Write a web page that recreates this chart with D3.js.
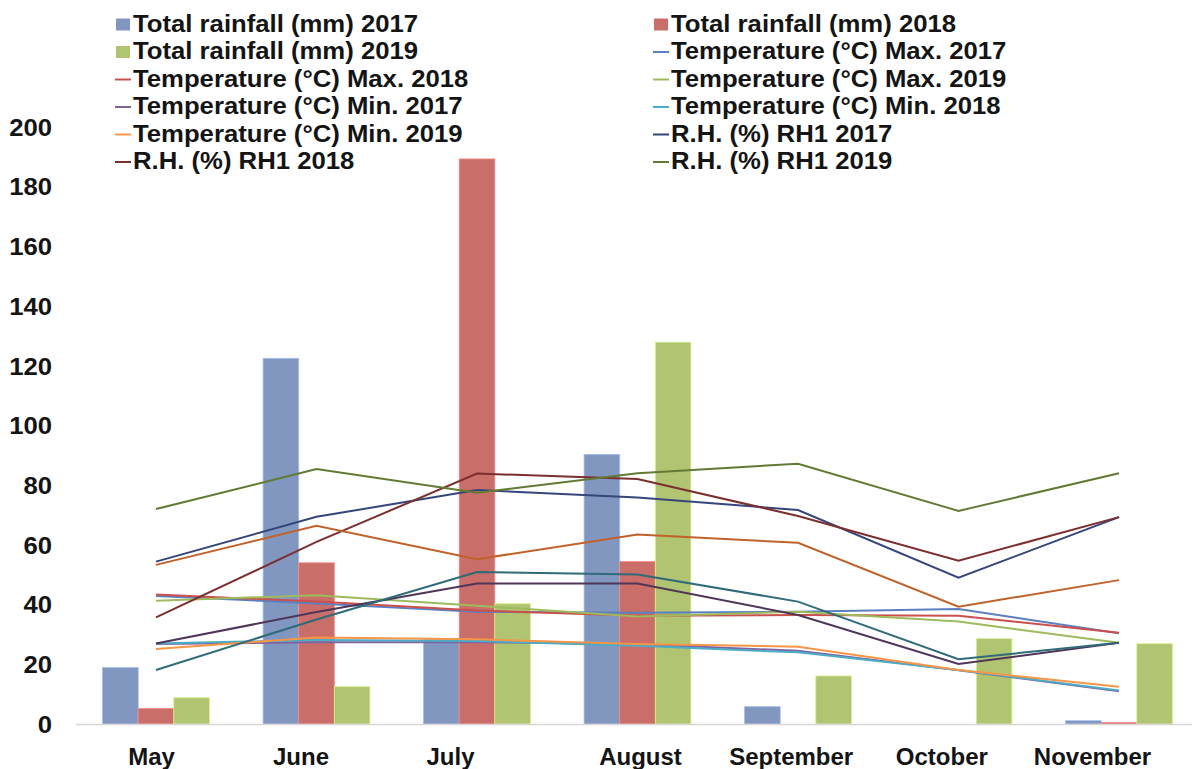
<!DOCTYPE html>
<html>
<head>
<meta charset="utf-8">
<script src="https://cdn.jsdelivr.net/npm/d3@7"></script>
<style>
  html, body { margin: 0; padding: 0; background: #fff; }
  svg { display: block; }
  text { font-family: Arial, "Liberation Sans", sans-serif; font-weight: bold; fill: #141414; }
</style>
</head>
<body>
<svg id="chart" width="1192" height="769"></svg>
<script>
// Months on the category axis
const months = ["May", "June", "July", "August", "September", "October", "November"];

// Total rainfall (mm), bars
const rain2017 = [18.9, 122.5, 28.4, 90.3, 5.8, 0, 1.1];
const rain2018 = [5.2, 54.0, 189.3, 54.4, 0, 0, 0.5];
const rain2019 = [8.8, 12.5, 40.3, 127.9, 16.1, 28.6, 26.9];

// Temperature (°C) maximum
const tMax2017 = [42.9, 40.4, 37.6, 37.3, 37.6, 38.5, 30.4];
const tMax2018 = [43.4, 41.0, 38.0, 36.3, 36.5, 36.3, 30.6];
const tMax2019 = [41.3, 43.1, 39.6, 36.0, 37.6, 34.3, 27.2];

// Temperature (°C) minimum
const tMin2017 = [26.8, 27.4, 27.4, 26.8, 24.5, 18.0, 11.0];
const tMin2018 = [27.0, 28.1, 27.8, 26.2, 24.0, 18.1, 11.2];
const tMin2019 = [25.1, 29.0, 28.4, 26.8, 25.9, 18.1, 12.5];

// Relative humidity (%), morning
const rh1_2017 = [54.4, 69.4, 78.4, 75.9, 71.7, 49.0, 69.3];
const rh1_2018 = [35.7, 61.0, 83.9, 82.1, 69.7, 54.7, 69.3];
const rh1_2019 = [72.0, 85.4, 77.5, 84.0, 87.2, 71.4, 84.0];

// Relative humidity (%), afternoon
const rh2_2017 = [27.0, 37.5, 47.1, 47.1, 36.5, 20.1, 27.2];
const rh2_2018 = [18.1, 35.0, 50.9, 50.1, 41.0, 21.7, 27.2];
const rh2_2019 = [53.3, 66.4, 55.2, 63.5, 60.7, 39.3, 48.2];

// Y axis ticks
const yTicks = [0, 20, 40, 60, 80, 100, 120, 140, 160, 180, 200];

const barSeries = [
  { name: "Total rainfall (mm) 2017", values: rain2017, color: "#8197c0" },
  { name: "Total rainfall (mm) 2018", values: rain2018, color: "#c96e69" },
  { name: "Total rainfall (mm) 2019", values: rain2019, color: "#b1c472" }
];

const lineSeries = [
  { name: "Temperature (°C) Max. 2017", values: tMax2017, color: "#5b7fc0" },
  { name: "Temperature (°C) Max. 2018", values: tMax2018, color: "#c9504d" },
  { name: "Temperature (°C) Max. 2019", values: tMax2019, color: "#9dbb5c" },
  { name: "Temperature (°C) Min. 2017", values: tMin2017, color: "#8064a2" },
  { name: "Temperature (°C) Min. 2018", values: tMin2018, color: "#4bacc6" },
  { name: "Temperature (°C) Min. 2019", values: tMin2019, color: "#f79646" },
  { name: "R.H. (%) RH1 2017", values: rh1_2017, color: "#34467a" },
  { name: "R.H. (%) RH1 2018", values: rh1_2018, color: "#7b2f2e" },
  { name: "R.H. (%) RH1 2019", values: rh1_2019, color: "#627a33" },
  { name: "R.H. (%) RH2 2017", values: rh2_2017, color: "#4f3559" },
  { name: "R.H. (%) RH2 2018", values: rh2_2018, color: "#2f6b78" },
  { name: "R.H. (%) RH2 2019", values: rh2_2019, color: "#c0622a" }
];

// The legend box only has room for the first twelve entries
const legendCount = 12;
const textStretch = 1.117;

const svg = d3.select("#chart");

const x = d3.scaleBand().domain(months).range([75.75, 1199.25]).paddingInner(0).paddingOuter(0);
const xSub = d3.scaleBand().domain(barSeries.map(d => d.name))
  .range([x.bandwidth() * 0.1673, x.bandwidth() * 0.8327]).padding(0);
const y = d3.scaleLinear().domain([0, 200]).range([724, 127]);
// Month captions sit on their own piecewise scale along the axis
const xLabel = d3.scaleLinear().domain([0, 2, 3, 6]).range([151, 450, 640, 1092]);

// Stretch rendered text horizontally to the chart's wide lettering
function stretch(sel, k) {
  sel.each(function () {
    const w = this.getComputedTextLength();
    this.setAttribute("textLength", w * k);
    this.setAttribute("lengthAdjust", "spacingAndGlyphs");
  });
}

// Bars
const groups = svg.append("g").selectAll("g")
  .data(barSeries).join("g")
  .attr("fill", d => d.color);
groups.selectAll("rect")
  .data(d => d.values.map((v, i) => ({ name: d.name, month: months[i], v, color: d.color })))
  .join("rect")
  .attr("x", d => x(d.month) + xSub(d.name))
  .attr("width", xSub.bandwidth())
  .attr("y", d => y(d.v))
  .attr("height", d => y(0) - y(d.v))
  .attr("stroke", d => d3.color(d.color).brighter(0.6))
  .attr("stroke-width", 0.8);

// Category axis line
const xAxis = svg.append("g")
  .attr("transform", `translate(0,${y(0)})`)
  .call(d3.axisBottom(x).tickSize(0).tickFormat(""));
xAxis.select(".domain").attr("stroke", "#dad4d7").attr("stroke-width", 1.6);

// Month labels
const xLab = svg.append("g")
  .attr("transform", `translate(0,${y(0)})`)
  .call(d3.axisBottom(xLabel)
    .tickValues(d3.range(months.length))
    .tickFormat(i => months[i])
    .tickSize(0).tickPadding(0));
xLab.select(".domain").remove();
xLab.selectAll("text")
  .attr("y", 41)
  .attr("dy", 0)
  .style("font-size", "24px")
  .style("font-family", "Arial, 'Liberation Sans', sans-serif")
  .style("font-weight", "bold")
  .attr("fill", "#141414");

// Value axis labels
const yAx = svg.append("g")
  .attr("transform", "translate(52,0)")
  .call(d3.axisLeft(y).tickValues(yTicks).tickSize(0).tickPadding(0));
yAx.select(".domain").remove();
yAx.selectAll("text")
  .attr("dy", "0.36em")
  .style("font-size", "23px")
  .style("font-family", "Arial, 'Liberation Sans', sans-serif")
  .style("font-weight", "bold")
  .attr("fill", "#141414");
stretch(yAx.selectAll("text"), textStretch);

// Lines
const line = d3.line()
  .x((v, i) => x(months[i]) + x.bandwidth() / 2)
  .y(v => y(v));
svg.append("g").selectAll("path")
  .data(lineSeries).join("path")
  .attr("d", d => line(d.values))
  .attr("fill", "none")
  .attr("stroke", d => d.color)
  .attr("stroke-width", 2)
  .attr("stroke-linejoin", "miter");

// Legend: two columns, filled row by row
const legendItems = barSeries.map(d => ({ ...d, kind: "bar" }))
  .concat(lineSeries.map(d => ({ ...d, kind: "line" })))
  .slice(0, legendCount);
const colX = [116, 654];
const rowY0 = 31.5, rowStep = 27.5;
const leg = svg.append("g").selectAll("g")
  .data(legendItems).join("g")
  .attr("transform", (d, i) => `translate(${colX[i % 2]},${rowY0 + Math.floor(i / 2) * rowStep})`);
leg.filter(d => d.kind === "bar").append("rect")
  .attr("x", 0).attr("y", -13).attr("width", 14).attr("height", 12)
  .attr("fill", d => d.color);
leg.filter(d => d.kind === "line").append("line")
  .attr("x1", -1).attr("x2", 15).attr("y1", -7).attr("y2", -7)
  .attr("stroke", d => d.color).attr("stroke-width", 2);
const legText = leg.append("text")
  .attr("x", 17)
  .attr("y", 0)
  .style("font-size", "23px")
  .text(d => d.name);
stretch(legText, textStretch);
</script>
</body>
</html>
